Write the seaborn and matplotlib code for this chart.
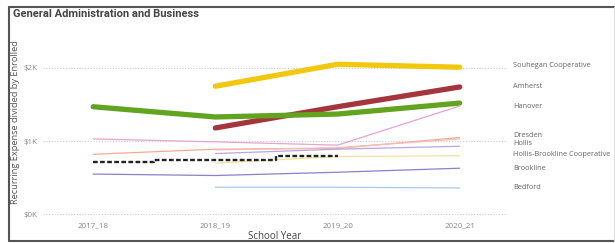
import numpy as np
import pandas as pd
import matplotlib
matplotlib.use("Agg")
import matplotlib.pyplot as plt
import seaborn as sb
from matplotlib.lines import Line2D
from matplotlib.ticker import FuncFormatter

# Dados (milhares de dólares por aluno)
anos = ["2017_18", "2018_19", "2019_20", "2020_21"]
souhegan = [np.nan, 1.75, 2.05, 2.01]
amherst = [np.nan, 1.18, 1.47, 1.74]
hanover = [1.47, 1.33, 1.37, 1.52]
rosa = [1.03, 0.99, 0.945, 1.48]
dresden = [0.82, 0.89, 0.90, 1.05]
salmao = [np.nan, 0.88, 0.91, 1.03]
hollis = [np.nan, 0.83, 0.89, 0.93]
hollis_brookline = [np.nan, 0.70, 0.79, 0.80]
brookline = [0.55, 0.53, 0.575, 0.63]
bedford = [np.nan, 0.37, 0.37, 0.36]
media = [0.71, 0.74, 0.79, np.nan]

series = {
    "Souhegan Cooperative": (souhegan, "#F2C80F", 3.8),
    "Amherst": (amherst, "#A5353D", 3.8),
    "Hanover": (hanover, "#62A420", 3.8),
    "Milford": (rosa, "#E7A3D2", 0.9),
    "Dresden": (dresden, "#F3AC92", 0.9),
    "Merrimack": (salmao, "#F1BDB6", 0.9),
    "Hollis": (hollis, "#B9A6E3", 0.9),
    "Hollis-Brookline Cooperative": (hollis_brookline, "#F3E29C", 0.9),
    "Brookline": (brookline, "#8C80C9", 0.9),
    "Bedford": (bedford, "#AAC8EE", 0.9),
}

rotulos = ["Souhegan Cooperative", "Amherst", "Hanover", "Dresden", "Hollis",
           "Hollis-Brookline Cooperative", "Brookline", "Bedford"]
rotulos_y = [2.03, 1.75, 1.48, 1.08, 0.965, 0.815, 0.63, 0.37]

sb.set_theme(style="white")
plt.rcParams["font.family"] = ["Open Sans", "DejaVu Sans"]

fig = plt.figure(figsize=(6.15, 2.43), dpi=100)
ax = fig.add_axes([0.070, 0.103, 0.753, 0.774])

for nome, (valores, cor, lw) in series.items():
    df = pd.DataFrame({"Ano": range(len(anos)), "Valor": valores}).dropna()
    sb.lineplot(data=df, x="Ano", y="Valor", color=cor, linewidth=lw, ax=ax,
                solid_capstyle="round")

df_media = pd.DataFrame({"Ano": range(len(anos)), "Valor": media}).dropna()
ax.plot(df_media.Ano, df_media.Valor, color="#222222", linewidth=1.7,
        linestyle=(0, (2.0, 1.0)), drawstyle="steps-mid")

ax.set_xlim(-0.41, 3.38)
ax.set_ylim(-0.05, 2.52)
ax.set_xticks(range(len(anos)))
ax.set_xticklabels(anos)
ax.set_yticks([0, 1, 2])
ax.yaxis.set_major_formatter(FuncFormatter(lambda v, p: "$%dK" % v))
ax.tick_params(axis="both", length=0, labelsize=5.8, labelcolor="#888888")
ax.tick_params(axis="y", pad=4)
ax.tick_params(axis="x", pad=3)
for s in ax.spines.values():
    s.set_visible(False)
ax.grid(False)
for v in [0, 1, 2]:
    ax.axhline(v, color="#cccccc", linewidth=0.8, linestyle=(0, (1, 1.5)), zorder=0)

ax.set_xlabel("School Year", fontsize=7, color="#444444", labelpad=1)
ax.set_ylabel("Recurring Expense divided by Enrolled", fontsize=6.7,
              color="#555555")
ax.yaxis.set_label_coords(-0.049, 0.51)

for nome, y in zip(rotulos, rotulos_y):
    ax.text(3.44, y, nome, fontsize=5.3, color="#666666", va="center",
            ha="left", clip_on=False)

fig.text(0.021, 0.942, "General Administration and Business", fontsize=8,
         fontweight="bold", color="#444444", family=["Roboto", "DejaVu Sans"],
         va="center", ha="left")

# moldura
moldura = dict(transform=fig.transFigure, color="#555555", linewidth=1.5)
fig.lines.append(Line2D([0.0146, 1.0], [0.971, 0.971], **moldura))
fig.lines.append(Line2D([0.0146, 0.0146], [0.008, 0.971], **moldura))
fig.lines.append(Line2D([0.0146, 1.0], [0.008, 0.008], **moldura))
fig.lines.append(Line2D([0.998, 0.998], [0.008, 0.971], transform=fig.transFigure,
                        color="#dddddd", linewidth=0.8))

fig.savefig("out.png", dpi=100)
